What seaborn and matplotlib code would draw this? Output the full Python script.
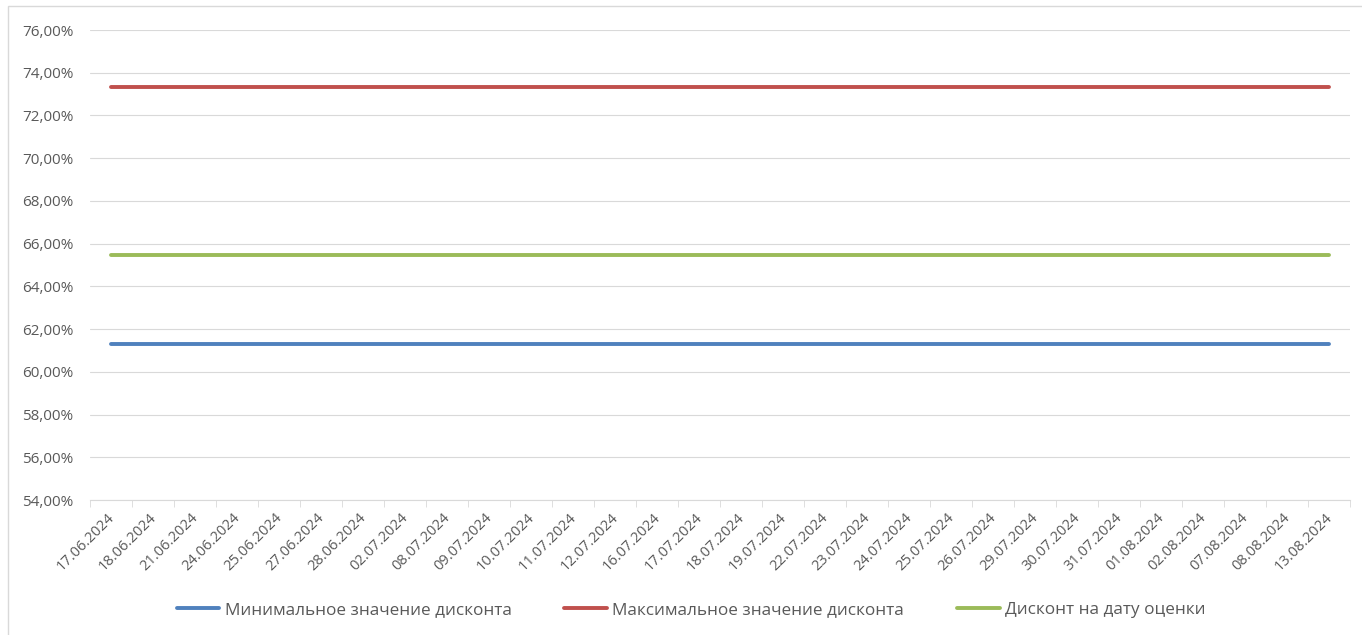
import pandas as pd
import matplotlib
matplotlib.use("Agg")
import matplotlib.pyplot as plt
import matplotlib.transforms as mtransforms
import seaborn as sns
from matplotlib.patches import Rectangle
from matplotlib.ticker import FuncFormatter, MultipleLocator

sns.set_style("white")
plt.rcParams['font.family'] = ['Open Sans', 'DejaVu Sans']

# Data
dates = ['17.06.2024', '18.06.2024', '21.06.2024', '24.06.2024', '25.06.2024',
         '27.06.2024', '28.06.2024', '02.07.2024', '08.07.2024', '09.07.2024',
         '10.07.2024', '11.07.2024', '12.07.2024', '16.07.2024', '17.07.2024',
         '18.07.2024', '19.07.2024', '22.07.2024', '23.07.2024', '24.07.2024',
         '25.07.2024', '26.07.2024', '29.07.2024', '30.07.2024', '31.07.2024',
         '01.08.2024', '02.08.2024', '07.08.2024', '08.08.2024', '13.08.2024']
min_discount = [0.6130] * len(dates)
max_discount = [0.7335] * len(dates)
current_discount = [0.6547] * len(dates)

series_names = ['Минимальное значение дисконта',
                'Максимальное значение дисконта',
                'Дисконт на дату оценки']
colors = ['#4f81bd', '#c0504d', '#9bbb59']

df = pd.concat([
    pd.DataFrame({'date': dates, 'value': min_discount, 'series': series_names[0]}),
    pd.DataFrame({'date': dates, 'value': max_discount, 'series': series_names[1]}),
    pd.DataFrame({'date': dates, 'value': current_discount, 'series': series_names[2]}),
])

fig = plt.figure(figsize=(13.62, 6.35), dpi=100)
ax = fig.add_axes([90 / 1362, 1 - 500 / 635, 1260 / 1362, 470 / 635])

sns.lineplot(data=df, x='date', y='value', hue='series', palette=colors,
             sort=False, linewidth=2.8, ax=ax, legend=True)

# Axes styling
ax.set_xlim(-0.5, len(dates) - 0.5)
ax.set_ylim(0.54, 0.76)
ax.yaxis.set_major_locator(MultipleLocator(0.02))
ax.yaxis.set_major_formatter(FuncFormatter(lambda v, _: f"{v * 100:.2f}%".replace('.', ',')))
ax.grid(axis='y', color='#d9d9d9', linewidth=0.8)
ax.set_axisbelow(True)
for s in ['top', 'right', 'left']:
    ax.spines[s].set_visible(False)
ax.spines['bottom'].set_color('#d9d9d9')
ax.set_xlabel('')
ax.set_ylabel('')

ax.set_xticks([i - 0.5 for i in range(len(dates) + 1)], minor=True)
ax.set_xticks(range(len(dates)))
ax.set_xticklabels(dates, rotation=45, ha='right', rotation_mode='anchor')
ax.tick_params(axis='x', which='major', length=0, labelsize=10.5, labelcolor='#595959', pad=7)
ax.tick_params(axis='x', which='minor', length=5, color='#d9d9d9', bottom=True)
ax.tick_params(axis='y', length=0, labelsize=11, labelcolor='#595959', pad=12)

# nudge the rotated date labels a little to the left
shift = mtransforms.ScaledTranslation(-4 / 100, 0, fig.dpi_scale_trans)
for lbl in ax.get_xticklabels():
    lbl.set_transform(lbl.get_transform() + shift)

# Legend at the bottom
handles, labels = ax.get_legend_handles_labels()
ax.get_legend().remove()
leg = fig.legend(handles, labels, loc='center', bbox_to_anchor=(691 / 1362, 1 - 610 / 635),
                 ncol=3, frameon=False, fontsize=12.3, handlelength=2.5,
                 handletextpad=0.3, columnspacing=3.1)
for t in leg.get_texts():
    t.set_color('#595959')

# Chart area border
fig.patches.append(Rectangle((8 / 1362, -0.01), 1.0, 1 - 6 / 635 + 0.01,
                             transform=fig.transFigure, fill=False,
                             edgecolor='#d9d9d9', linewidth=1))

fig.savefig('out.png', dpi=100)
